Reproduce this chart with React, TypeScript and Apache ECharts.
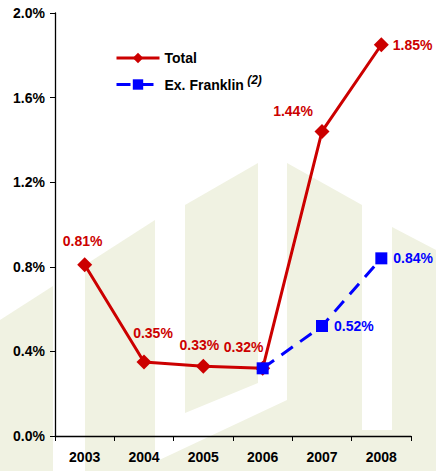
import React, { useEffect, useRef } from "react";
import * as echarts from "echarts";

const years = ["2003", "2004", "2005", "2006", "2007", "2008"];
const totalValues = [0.81, 0.35, 0.33, 0.32, 1.44, 1.85];
const franklinValues = [null, null, null, 0.32, 0.52, 0.84];
const yTicks = [0, 0.4, 0.8, 1.2, 1.6, 2.0];

const totalLabelOffsets: [number, number][] = [
  [-2, 1],
  [9, -4],
  [-4, 3],
  [-19, 3],
  [-29, 4],
  [0, 0],
];

const RED = "#cc0000";
const BLUE = "#0000ff";
const WM = "#f0f2e2";
const FONT = "Liberation Sans, Arial, sans-serif";

const watermark = [
  [[0, 320], [53, 286], [53, 471], [0, 471]],
  [[85, 265], [155, 220], [155, 471], [85, 471]],
  [[185, 205], [258, 163], [258, 383], [185, 413]],
  [[155, 462], [287, 400], [287, 471], [155, 471]],
  [[287, 163], [362, 205], [362, 471], [287, 471]],
  [[362, 430], [392, 430], [392, 471], [362, 471]],
  [[392, 227], [436, 250], [436, 471], [392, 471]],
];

export default function App() {
  const ref = useRef<HTMLDivElement>(null);
  useEffect(() => {
    const chart = echarts.init(ref.current!, undefined, { renderer: "svg" });
    chart.setOption({
      animation: false,
      backgroundColor: "#ffffff",
      textStyle: { fontFamily: FONT },
      graphic: watermark.map((pts) => ({
        type: "polygon",
        silent: true,
        z: -10,
        shape: { points: pts },
        style: { fill: WM },
      })),
      grid: { left: 55, right: 25, top: 13, bottom: 35 },
      legend: {
        orient: "vertical",
        left: 110,
        top: 46,
        itemWidth: 43,
        itemHeight: 13,
        itemGap: 9,
        lineStyle: { width: 3 },
        data: ["Total", "Ex. Franklin"],
        textStyle: {
          fontFamily: FONT,
          fontWeight: "bold",
          fontSize: 14,
          color: "#000",
          rich: {
            sup: {
              fontFamily: FONT,
              fontWeight: "bold",
              fontStyle: "italic",
              fontSize: 12,
              color: "#000",
              padding: [0, 0, 9, 0],
            },
          },
        },
        formatter: (name: string) =>
          name === "Ex. Franklin" ? "Ex. Franklin{sup| (2)}" : name,
      },
      xAxis: {
        type: "category",
        data: years,
        boundaryGap: true,
        axisLine: { lineStyle: { color: "#000", width: 1.3 } },
        axisTick: { show: true, length: 5, lineStyle: { color: "#000" } },
        axisLabel: {
          fontFamily: FONT,
          fontWeight: "bold",
          fontSize: 14,
          color: "#000",
          margin: 14,
        },
        splitLine: { show: false },
      },
      yAxis: {
        type: "value",
        min: yTicks[0],
        max: yTicks[yTicks.length - 1],
        interval: 0.4,
        axisLine: { show: true, lineStyle: { color: "#000", width: 1.3 } },
        axisTick: { show: true, length: 5, lineStyle: { color: "#000" } },
        axisLabel: {
          fontFamily: FONT,
          fontWeight: "bold",
          fontSize: 14,
          color: "#000",
          margin: 10,
          formatter: (v: number) => v.toFixed(1) + "%",
        },
        splitLine: { show: false },
      },
      series: [
        {
          name: "Total",
          type: "line",
          z: 3,
          data: totalValues.map((v, i) => ({
            value: v,
            label:
              i === totalValues.length - 1
                ? { position: "right", distance: 4 }
                : { position: "top", distance: 10, offset: totalLabelOffsets[i] },
          })),
          symbol: "diamond",
          symbolSize: 15,
          lineStyle: { color: RED, width: 3 },
          itemStyle: { color: RED },
          label: {
            show: true,
            fontFamily: FONT,
            fontWeight: "bold",
            fontSize: 14,
            color: RED,
            formatter: (p: any) => p.value.toFixed(2) + "%",
          },
        },
        {
          name: "Ex. Franklin",
          type: "line",
          z: 4,
          data: franklinValues.map((v, i) => ({
            value: v,
            label: { show: i !== 3 },
          })),
          symbol: "rect",
          symbolSize: 12,
          lineStyle: { color: BLUE, width: 3, type: [14, 9] },
          itemStyle: { color: BLUE },
          label: {
            show: true,
            position: "right",
            distance: 6,
            fontFamily: FONT,
            fontWeight: "bold",
            fontSize: 14,
            color: BLUE,
            formatter: (p: any) =>
              p.value == null ? "" : p.value.toFixed(2) + "%",
          },
        },
      ],
    });
    return () => chart.dispose();
  }, []);
  return <div ref={ref} style={{ width: 436, height: 471, position: "absolute", left: 0, top: 0 }} />;
}
